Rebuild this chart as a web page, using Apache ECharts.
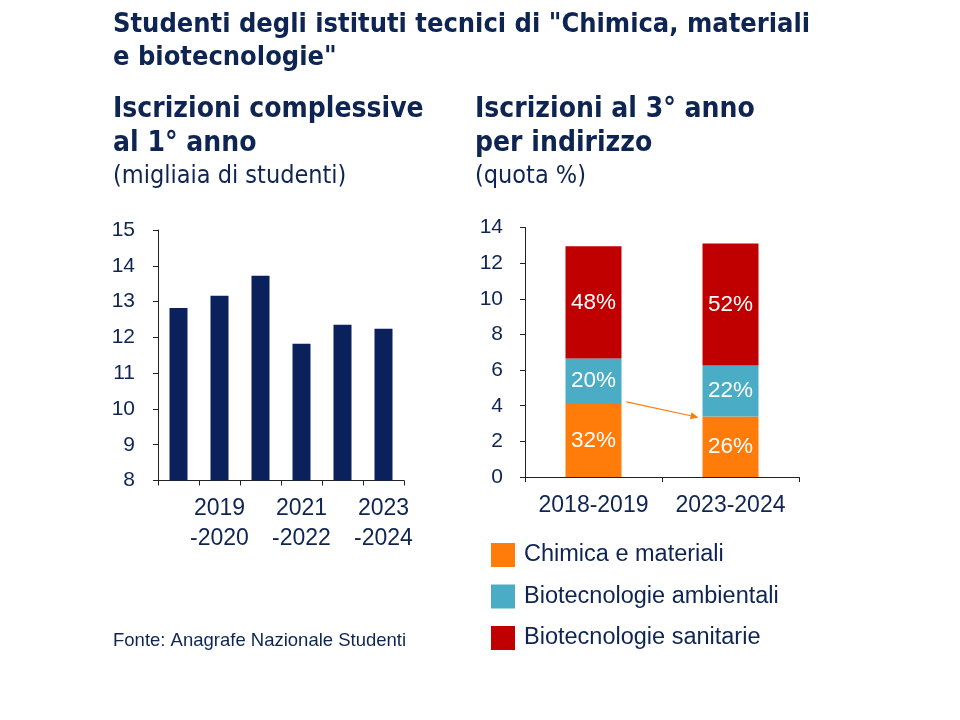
<!DOCTYPE html>
<html>
<head>
<meta charset="utf-8">
<script src="https://cdn.jsdelivr.net/npm/echarts@6/dist/echarts.min.js"></script>
<style>
html,body{margin:0;padding:0;background:#fff;}
#main{width:960px;height:720px;}
</style>
</head>
<body>
<div id="main"></div>
<script>
// ---- Data ----
var leftCategories = ['2018\n-2019', '2019\n-2020', '2020\n-2021', '2021\n-2022', '2022\n-2023', '2023\n-2024'];
var leftValues = [12.82, 13.16, 13.72, 11.82, 12.35, 12.24];
var leftTicks = [8, 9, 10, 11, 12, 13, 14, 15];

var rightCategories = ['2018-2019', '2023-2024'];
var chimicaValues = [4.1, 3.4];
var ambientaliValues = [2.55, 2.85];
var sanitarieValues = [6.3, 6.85];
var chimicaShares = ['32%', '26%'];
var ambientaliShares = ['20%', '22%'];
var sanitarieShares = ['48%', '52%'];
var seriesNames = ['Chimica e materiali', 'Biotecnologie ambientali', 'Biotecnologie sanitarie'];

var NAVY = '#0e2452';
var NARROW = "'Liberation Sans Narrow', 'Arial Narrow', 'DejaVu Sans Condensed', sans-serif";
var SANS = "'Liberation Sans', Arial, sans-serif";

var chart = echarts.init(document.getElementById('main'), null, {renderer: 'canvas'});

function shareLabel(arr) {
  return {
    show: true, position: 'inside', color: '#fff', fontSize: 22.5, fontFamily: SANS,
    formatter: function (p) { return arr[p.dataIndex]; }
  };
}

var option = {
  backgroundColor: '#fff',
  animation: false,
  textStyle: {fontFamily: SANS},
  graphic: [
    {type: 'text', left: 113, top: 8, style: {text: 'Studenti degli istituti tecnici di "Chimica, materiali\ne biotecnologie"', font: 'bold 27px ' + NARROW, fill: NAVY, lineHeight: 33}},
    {type: 'text', left: 113, top: 93, style: {text: 'Iscrizioni complessive\nal 1° anno', font: 'bold 28px ' + NARROW, fill: NAVY, lineHeight: 34}},
    {type: 'text', left: 113, top: 164, style: {text: '(migliaia di studenti)', font: '25px ' + NARROW, fill: NAVY}},
    {type: 'text', left: 475, top: 93, style: {text: 'Iscrizioni al 3° anno\nper indirizzo', font: 'bold 28px ' + NARROW, fill: NAVY, lineHeight: 34}},
    {type: 'text', left: 475, top: 164, style: {text: '(quota %)', font: '25px ' + NARROW, fill: NAVY}},
    {type: 'text', left: 113, top: 631, style: {text: 'Fonte: Anagrafe Nazionale Studenti', font: '18.5px ' + SANS, fill: NAVY}}
  ],
  legend: {
    data: seriesNames,
    orient: 'vertical',
    left: 491, top: 543,
    padding: 0,
    itemWidth: 24, itemHeight: 24, itemGap: 17.5,
    icon: 'rect',
    textStyle: {fontSize: 23.5, color: NAVY, fontFamily: SANS, padding: [0, 0, 0, 4]},
    selectedMode: false
  },
  grid: [
    {left: 158, top: 230, width: 246, height: 250.5},
    {left: 525, top: 227.5, width: 274, height: 249.5}
  ],
  xAxis: [
    {
      type: 'category', gridIndex: 0, data: leftCategories, boundaryGap: true,
      axisLine: {lineStyle: {color: '#222', width: 1}},
      axisTick: {show: true, interval: 0, length: 5, lineStyle: {color: '#222'}},
      axisLabel: {
        interval: function (i) { return i % 2 === 1; },
        color: NAVY, fontSize: 23, lineHeight: 30, margin: 13, fontFamily: SANS
      }
    },
    {
      type: 'category', gridIndex: 1, data: rightCategories, boundaryGap: true,
      axisLine: {lineStyle: {color: '#222', width: 1}},
      axisTick: {show: true, interval: 0, length: 5, lineStyle: {color: '#222'}},
      axisLabel: {interval: 0, hideOverlap: false, color: NAVY, fontSize: 23, margin: 17, fontFamily: SANS}
    }
  ],
  yAxis: [
    {
      type: 'value', gridIndex: 0, min: leftTicks[0], max: leftTicks[leftTicks.length - 1], interval: 1,
      axisLine: {show: true, lineStyle: {color: '#222', width: 1}},
      axisTick: {show: true, length: 5, lineStyle: {color: '#222'}},
      splitLine: {show: false},
      axisLabel: {color: NAVY, fontSize: 21, margin: 23, fontFamily: SANS}
    },
    {
      type: 'value', gridIndex: 1, min: 0, max: 14, interval: 2,
      axisLine: {show: true, lineStyle: {color: '#222', width: 1}},
      axisTick: {show: true, length: 5, lineStyle: {color: '#222'}},
      splitLine: {show: false},
      axisLabel: {color: NAVY, fontSize: 21, margin: 22, fontFamily: SANS}
    }
  ],
  series: [
    {
      name: 'Iscrizioni 1° anno', type: 'bar', xAxisIndex: 0, yAxisIndex: 0,
      data: leftValues, barWidth: 18, itemStyle: {color: '#0a215c'}
    },
    {
      name: seriesNames[0], type: 'bar', stack: 'quota', xAxisIndex: 1, yAxisIndex: 1,
      data: chimicaValues, barWidth: 56, itemStyle: {color: '#ff7b0a'},
      label: shareLabel(chimicaShares)
    },
    {
      name: seriesNames[1], type: 'bar', stack: 'quota', xAxisIndex: 1, yAxisIndex: 1,
      data: ambientaliValues, barWidth: 56, itemStyle: {color: '#4aacc5'},
      label: shareLabel(ambientaliShares)
    },
    {
      name: seriesNames[2], type: 'bar', stack: 'quota', xAxisIndex: 1, yAxisIndex: 1,
      data: sanitarieValues, barWidth: 56, itemStyle: {color: '#c00000'},
      label: shareLabel(sanitarieShares)
    }
  ]
};

chart.setOption(option);

// Arrow from top of first orange segment to top of second orange segment
var p0 = chart.convertToPixel({xAxisIndex: 1, yAxisIndex: 1}, [0, chimicaValues[0]]);
var p1 = chart.convertToPixel({xAxisIndex: 1, yAxisIndex: 1}, [1, chimicaValues[1]]);
var half = 28;
var x0 = p0[0] + half + 5, y0 = p0[1] - 2;
var x1 = p1[0] - half - 4, y1 = p1[1] + 1;
var ang = Math.atan2(y1 - y0, x1 - x0);
var ah = 8, aw = 3.5;
var bx = x1 - ah * Math.cos(ang), by = y1 - ah * Math.sin(ang);
var g = option.graphic.slice();
g.push({type: 'line', shape: {x1: x0, y1: y0, x2: bx, y2: by}, style: {stroke: '#ff7b0a', lineWidth: 1.2}, z: 100});
g.push({type: 'polygon', shape: {points: [[x1, y1], [bx - aw * Math.sin(ang), by + aw * Math.cos(ang)], [bx + aw * Math.sin(ang), by - aw * Math.cos(ang)]]}, style: {fill: '#ff7b0a'}, z: 100});
chart.setOption({graphic: g});
</script>
</body>
</html>
